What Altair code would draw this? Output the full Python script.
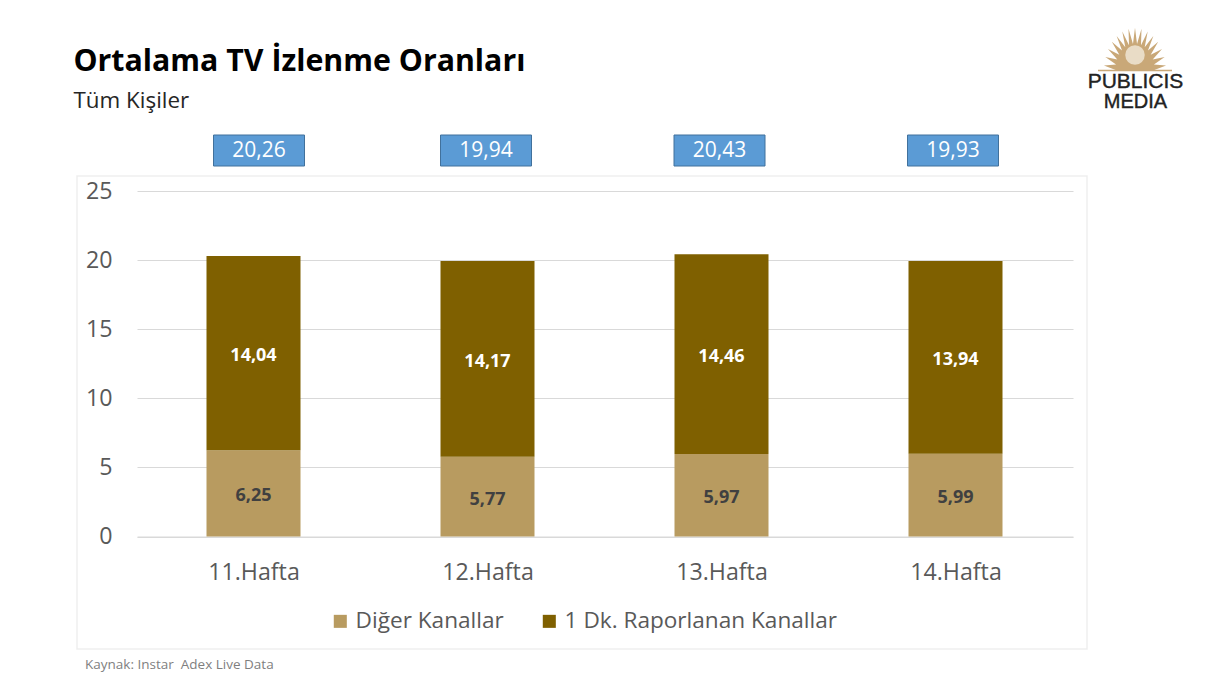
import math
import altair as alt
import pandas as pd

weeks = ["11.Hafta", "12.Hafta", "13.Hafta", "14.Hafta"]
diger = [6.25, 5.77, 5.97, 5.99]
raporlanan = [14.04, 14.17, 14.46, 13.94]
totals = [20.26, 19.94, 20.43, 19.93]
series_names = ["Diğer Kanallar", "1 Dk. Raporlanan Kanallar"]
series_colors = ["#b89b60", "#7f6000"]
label_colors = ["#404040", "#ffffff"]
y_ticks = [0, 5, 10, 15, 20, 25]

TITLE = "Ortalama TV İzlenme Oranları"
SUBTITLE = "Tüm Kişiler"
SOURCE = "Kaynak: Instar \u00a0Adex Live Data"
FONT = "Open Sans"


def comma(v):
    return f"{v:.2f}".replace(".", ",")


rows = []
for i, w in enumerate(weeks):
    base = 0.0
    for j, (name, vals) in enumerate(zip(series_names, [diger, raporlanan])):
        v = vals[i]
        rows.append(dict(week=w, series=name, order=j, value=v, y0=base, y1=base + v,
                         mid=base + v / 2, label=comma(v), lcolor=label_colors[j]))
        base += v
df = pd.DataFrame(rows)

PW, PH = 936, 345.5
x_axis = alt.Axis(title=None, labelAngle=0, labelFontSize=23.2, labelColor="#595959", labelFont=FONT,
                  labelPadding=25, ticks=False, domain=True, domainColor="#d9d9d9", grid=False)
y_axis = alt.Axis(title=None, values=y_ticks, labelFontSize=23.2, labelColor="#595959", labelFont=FONT,
                  labelPadding=25, ticks=False, domain=False, grid=True, gridColor="#d9d9d9")
xscale = alt.Scale(domain=weeks)
yscale = alt.Scale(domain=[0, 25], nice=False)
x = alt.X("week:N", sort=weeks, scale=xscale, axis=x_axis)

frame = alt.Chart(pd.DataFrame({"a": [0]})).mark_rect(fillOpacity=0, stroke="#efefef", strokeWidth=1.5).encode(
    x=alt.value(-60), x2=alt.value(950), y=alt.value(-15), y2=alt.value(458))

bars = alt.Chart(df).mark_bar(size=94, xOffset=-0.5).encode(
    x=x,
    y=alt.Y("y0:Q", scale=yscale, axis=y_axis),
    y2="y1:Q",
    color=alt.Color("series:N", sort=series_names,
                    scale=alt.Scale(domain=series_names, range=series_colors),
                    legend=alt.Legend(title=None, orient="none", legendX=192, legendY=419, direction="horizontal",
                                      symbolType="square", symbolSize=170, labelFontSize=22.6, labelFont=FONT,
                                      labelColor="#595959", columnPadding=34, labelOffset=4,
                                      symbolStrokeWidth=0, labelLimit=400)),
)

seglabels = alt.Chart(df).mark_text(fontSize=18, fontWeight="bold", font=FONT, dy=3, xOffset=-0.5).encode(
    x=x,
    y=alt.Y("mid:Q", scale=yscale, axis=y_axis),
    text="label:N",
    color=alt.Color("lcolor:N", scale=None, legend=None),
)

# Total boxes above the plot; the original boxes are not quite centred on the bars.
box_shift = [5, -2, -2.5, -3]
tot_df = pd.DataFrame({"week": weeks, "total": [comma(t) for t in totals]})
box_layers = []
for i, w in enumerate(weeks):
    one = tot_df[tot_df.week == w]
    box_layers.append(alt.Chart(one).mark_bar(size=91, fill="#5b9bd5", stroke="#41719c", strokeWidth=1,
                                              xOffset=box_shift[i]).encode(
        x=x, y=alt.value(-56), y2=alt.value(-25)))
    box_layers.append(alt.Chart(one).mark_text(fontSize=21, color="white", font=FONT, xOffset=box_shift[i]).encode(
        x=x, y=alt.value(-40), text="total:N"))


def label(text, px, py, **kw):
    return alt.Chart(pd.DataFrame({"a": [0]})).mark_text(text=text, **kw).encode(
        x=alt.value(px - 137), y=alt.value(py - 191))


source = label(SOURCE, 85, 665, fontSize=13.5, color="#7f7f7f", font=FONT, align="left")

# Logo: a stylised sun above the two wordmark lines.
pts = []
n = 15
for k in range(2 * n + 1):
    a = math.pi * k / (2 * n)
    r = 1.0 if k % 2 else 0.62
    pts.append((r * math.cos(a), -r * math.sin(a) * 1.35))
sun_path = "M" + " L".join(f"{px:.3f},{py:.3f}" for px, py in pts) + " Z"
sun = alt.Chart(pd.DataFrame({"a": [0]})).mark_point(shape=sun_path, filled=True, fill="#c9a878", size=3900, opacity=1,
                                                     strokeWidth=0).encode(
    x=alt.value(1135 - 137), y=alt.value(70 - 191))
face = alt.Chart(pd.DataFrame({"a": [0]})).mark_point(shape="circle", filled=True, fill="#e9dcc6", size=380, opacity=1,
                                                      strokeWidth=0).encode(
    x=alt.value(1135 - 137), y=alt.value(55 - 191))
base_line = alt.Chart(pd.DataFrame({"a": [0]})).mark_rule(color="#c9a878", strokeWidth=1.5).encode(
    x=alt.value(1098 - 137), x2=alt.value(1172 - 137), y=alt.value(70.5 - 191))
logo1 = label("PUBLICIS", 1135.5, 82, fontSize=21, color="#222222", font="Liberation Sans", stroke="#222222",
              strokeWidth=0.4, align="center")
logo2 = label("MEDIA", 1135.5, 102, fontSize=20, color="#222222", font="Liberation Sans", stroke="#222222",
              strokeWidth=0.4, align="center")

chart = alt.layer(frame, bars, seglabels, *box_layers, source, sun, face, base_line, logo1, logo2).properties(
    width=PW, height=PH,
    autosize="none",
    padding={"left": 129, "top": 183, "right": 135, "bottom": 144},
    background="white",
    title=alt.TitleParams(text=TITLE, subtitle=SUBTITLE, anchor="start", frame="group", dx=-63.5, offset=-85,
                          font=FONT, fontSize=30.3, fontWeight="bold", color="#000000",
                          subtitleFont=FONT, subtitleFontSize=22.4, subtitleColor="#262626", subtitlePadding=13),
).configure_view(stroke=None).resolve_scale(color="independent")

chart.save("out.html", embed_options={"renderer": "svg", "actions": False})
